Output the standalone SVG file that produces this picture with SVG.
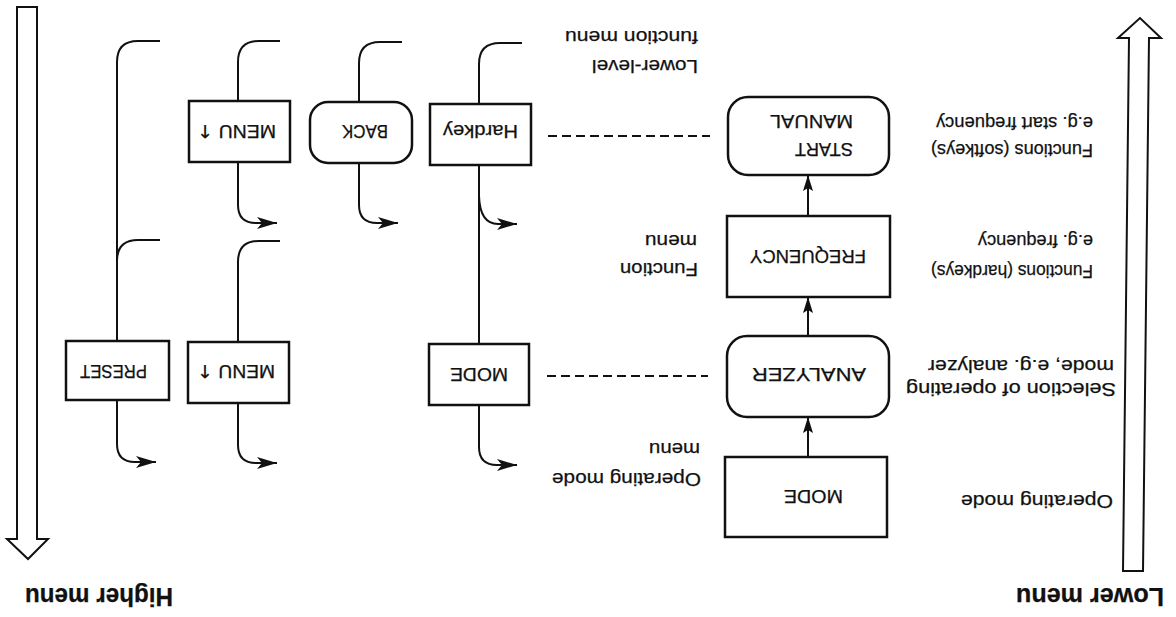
<svg xmlns="http://www.w3.org/2000/svg" width="1176" height="617" viewBox="0 0 1176 617">
<style>
.bx{fill:#fff;stroke:#111;stroke-width:2.5}
.ln{fill:none;stroke:#111;stroke-width:2}
.dash{fill:none;stroke:#111;stroke-width:2;stroke-dasharray:9 5}
.big{fill:#fff;stroke:#111;stroke-width:2}
text{font-family:"Liberation Sans",Arial,sans-serif;fill:#111;stroke:#111;stroke-width:0.25}
.t{font-size:19px}
.b{font-size:18px}
.h{font-size:25px;font-weight:bold}
.ar{font-family:"DejaVu Sans",sans-serif}
</style>
<defs>
<marker id="ah" markerUnits="userSpaceOnUse" markerWidth="22" markerHeight="14" refX="20" refY="6" orient="auto">
<path d="M0,0 L20,6 L0,12 L5,6 z" fill="#111"/>
</marker>
<marker id="av" markerUnits="userSpaceOnUse" markerWidth="18" markerHeight="12" refX="16" refY="5" orient="auto">
<path d="M0,0 L16,5 L0,10 L3,5 z" fill="#111"/>
</marker>
</defs>
<rect width="1176" height="617" fill="#fff"/>

<g id="big-arrows">
<polygon class="big" points="17,7 37,7 37,539 48,539 28,559 7,539 17,539"/>
<polygon class="big" points="1123,571 1143,571 1149,38 1161,38 1140,18 1118,38 1129,38"/>
</g>

<g id="connectors">
<path class="ln" d="M160 41 H138 Q117 41 117 62 V341"/>
<path class="ln" d="M160 240 H138 Q117 240 117 261"/>
<path class="ln" d="M117 400 V444 Q117 462 135 462 H156" marker-end="url(#ah)"/>
<path class="ln" d="M280 41 H259 Q238 41 238 62 V101"/>
<path class="ln" d="M238 162 V205 Q238 223 256 223 H277" marker-end="url(#ah)"/>
<path class="ln" d="M280 241 H259 Q238 241 238 262 V342"/>
<path class="ln" d="M238 403 V445 Q238 463 256 463 H277" marker-end="url(#ah)"/>
<path class="ln" d="M402 42 H380 Q359 42 359 63 V102"/>
<path class="ln" d="M359 163 V205 Q359 223 377 223 H398" marker-end="url(#ah)"/>
<path class="ln" d="M522 43 H500 Q479 43 479 64 V104"/>
<path class="ln" d="M479 165 V344"/>
<path class="ln" d="M479 196 Q480 224 498 224 H517" marker-end="url(#ah)"/>
<path class="ln" d="M479 405 V447 Q479 465 497 465 H517" marker-end="url(#ah)"/>
<path class="dash" d="M548 136 H710"/>
<path class="dash" d="M547 376 H708"/>
<path class="ln" d="M808 457 V417" marker-end="url(#av)"/>
<path class="ln" d="M808 336 V297" marker-end="url(#av)"/>
<path class="ln" d="M808 216 V175" marker-end="url(#av)"/>
</g>

<g id="n-preset"><rect class="bx" x="66" y="341" width="103" height="59"/></g>
<g id="n-menu1"><rect class="bx" x="189" y="101" width="101" height="61"/></g>
<g id="n-menu2"><rect class="bx" x="188" y="342" width="101" height="61"/></g>
<g id="n-back"><rect class="bx" x="310" y="102" width="102" height="61" rx="18"/></g>
<g id="n-hardkey"><rect class="bx" x="430" y="104" width="101" height="61"/></g>
<g id="n-mode1"><rect class="bx" x="429" y="344" width="100" height="61"/></g>
<g id="n-start"><rect class="bx" x="728" y="97" width="161" height="78" rx="20"/></g>
<g id="n-freq"><rect class="bx" x="727" y="216" width="163" height="81"/></g>
<g id="n-analyzer"><rect class="bx" x="727" y="336" width="162" height="81" rx="20"/></g>
<g id="n-mode2"><rect class="bx" x="725" y="457" width="162" height="80"/></g>

<g id="texts" transform="rotate(180 588 308.5)">
<text class="h" x="1003" y="29" textLength="148" lengthAdjust="spacingAndGlyphs">Higher menu</text>
<text class="h" x="12" y="29" textLength="148" lengthAdjust="spacingAndGlyphs">Lower menu</text>
<text class="t" x="478" y="557" textLength="106" lengthAdjust="spacingAndGlyphs">Lower-level</text>
<text class="t" x="478" y="586" textLength="133" lengthAdjust="spacingAndGlyphs">function menu</text>
<text class="t" x="478" y="354" textLength="78" lengthAdjust="spacingAndGlyphs">Function</text>
<text class="t" x="479" y="382" textLength="52" lengthAdjust="spacingAndGlyphs">menu</text>
<text class="t" x="475" y="144" textLength="149" lengthAdjust="spacingAndGlyphs">Operating mode</text>
<text class="t" x="476" y="174" textLength="51" lengthAdjust="spacingAndGlyphs">menu</text>
<text class="t" x="63" y="122" textLength="152" lengthAdjust="spacingAndGlyphs">Operating mode</text>
<text class="t" x="60" y="234" textLength="210" lengthAdjust="spacingAndGlyphs">Selection of operating</text>
<text class="t" x="62" y="257" textLength="186" lengthAdjust="spacingAndGlyphs">mode, e.g. analyzer</text>
<text class="t" x="83" y="352" textLength="162" lengthAdjust="spacingAndGlyphs">Functions (hardkeys)</text>
<text class="t" x="83" y="382" textLength="115" lengthAdjust="spacingAndGlyphs">e.g. frequency</text>
<text class="t" x="83" y="473" textLength="162" lengthAdjust="spacingAndGlyphs">Functions (softkeys)</text>
<text class="t" x="83" y="500" textLength="157" lengthAdjust="spacingAndGlyphs">e.g. start frequency</text>
<text class="b" x="1029" y="252" textLength="67" lengthAdjust="spacingAndGlyphs">PRESET</text>
<text class="b" x="901" y="252" textLength="78" lengthAdjust="spacingAndGlyphs">MENU <tspan class="ar">↑</tspan></text>
<text class="b" x="900" y="492" textLength="79" lengthAdjust="spacingAndGlyphs">MENU <tspan class="ar">↑</tspan></text>
<text class="b" x="788" y="492" textLength="46" lengthAdjust="spacingAndGlyphs">BACK</text>
<text class="b" x="658" y="492" textLength="75" lengthAdjust="spacingAndGlyphs">Hardkey</text>
<text class="b" x="668" y="249" textLength="58" lengthAdjust="spacingAndGlyphs">MODE</text>
<text class="b" x="323" y="474" textLength="58" lengthAdjust="spacingAndGlyphs">START</text>
<text class="b" x="323" y="502" textLength="83" lengthAdjust="spacingAndGlyphs">MANUAL</text>
<text class="b" x="310" y="367" textLength="116" lengthAdjust="spacingAndGlyphs">FREQUENCY</text>
<text class="b" x="310" y="249" textLength="114" lengthAdjust="spacingAndGlyphs">ANALYZER</text>
<text class="b" x="333" y="127" textLength="59" lengthAdjust="spacingAndGlyphs">MODE</text>
</g>
</svg>
